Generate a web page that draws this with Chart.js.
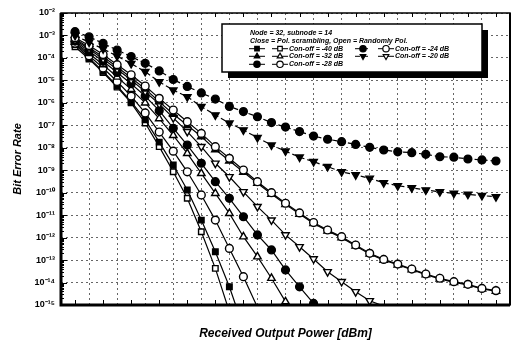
<!DOCTYPE html>
<html><head><meta charset="utf-8">
<script src="https://cdn.jsdelivr.net/npm/chart.js@4/dist/chart.umd.min.js"></script>
<style>html,body{margin:0;padding:0;background:#fff}#wrap{width:517px;height:341px}</style>
</head><body><div id="wrap"><canvas id="c" width="517" height="341"></canvas></div>
<script>
// Received output power (dBm)
const powerDbm = [-25,-24.5,-24,-23.5,-23,-22.5,-22,-21.5,-21,-20.5,-20,-19.5,-19,-18.5,-18,-17.5,-17,-16.5,-16,-15.5,-15,-14.5,-14,-13.5,-13,-12.5,-12,-11.5,-11,-10.5,-10];
// log10(BER) per series; Close = Pol. scrambling, Open = Randomly Pol.
const close40 = [-3.4,-4.0,-4.6,-5.25,-5.95,-6.75,-7.75,-8.77,-9.88,-11.22,-12.63,-14.19,-16.0];
const open40  = [-3.5,-4.05,-4.65,-5.3,-6.0,-6.9,-7.95,-9.07,-10.25,-11.74,-13.37,-15.3];
const close32 = [-3.15,-3.55,-3.95,-4.4,-4.88,-5.38,-5.95,-6.5,-7.0,-7.5,-8.08,-8.58,-9.08,-9.58,-10.06,-10.52,-10.95,-11.37,-11.7,-12.0,-12.37,-12.73,-13.0,-13.21,-13.43,-13.65,-13.84,-13.99,-14.11,-14.28,-14.38];
const open32  = [-3.3,-3.8,-4.3,-4.85,-5.4,-6.0,-6.7,-7.45,-8.25,-9.14,-10.03,-10.92,-11.96,-12.85,-13.81,-14.85,-15.9];
const close28 = [-3.25,-3.7,-4.15,-4.65,-5.15,-5.7,-6.35,-7.13,-7.88,-8.69,-9.51,-10.25,-11.07,-11.88,-12.55,-13.44,-14.19,-14.93,-15.8];
const open28  = [-3.35,-3.9,-4.45,-5.05,-5.7,-6.45,-7.3,-8.15,-9.07,-10.1,-11.22,-12.48,-13.74,-15.1];
const close24 = [-2.83,-3.06,-3.35,-3.65,-3.94,-4.24,-4.58,-4.96,-5.27,-5.56,-5.83,-6.16,-6.39,-6.62,-6.88,-7.08,-7.28,-7.48,-7.62,-7.73,-7.85,-7.98,-8.1,-8.18,-8.22,-8.29,-8.4,-8.42,-8.5,-8.54,-8.59];
const open24  = [-3.1,-3.45,-3.85,-4.3,-4.75,-5.25,-5.8,-6.32,-6.84,-7.36,-7.95,-8.47,-8.99,-9.51,-10.0,-10.47,-10.9,-11.33,-11.66,-11.96,-12.33,-12.7,-12.97,-13.18,-13.4,-13.62,-13.81,-13.96,-14.08,-14.26,-14.36];
const close20 = [-3.0,-3.3,-3.6,-3.92,-4.25,-4.61,-5.06,-5.43,-5.73,-6.17,-6.54,-6.9,-7.21,-7.55,-7.88,-8.15,-8.42,-8.62,-8.84,-9.07,-9.21,-9.36,-9.56,-9.69,-9.78,-9.88,-9.96,-10.03,-10.07,-10.13,-10.18];
const open20  = [-3.2,-3.6,-4.05,-4.5,-4.98,-5.5,-6.05,-6.67,-7.28,-7.95,-8.69,-9.29,-9.96,-10.62,-11.22,-11.88,-12.41,-12.95,-13.52,-13.96,-14.41,-14.81,-15.05];
const yDecades = [-15,-14,-13,-12,-11,-10,-9,-8,-7,-6,-5,-4,-3,-2];
const xTickLabels = [-24,-22,-20,-18,-16,-14,-12,-10];

const sup = {'-':'\u207B','0':'\u2070','1':'\u00B9','2':'\u00B2','3':'\u00B3','4':'\u2074','5':'\u2075','6':'\u2076','7':'\u2077','8':'\u2078','9':'\u2079'};
const toSup = s => String(s).split('').map(c=>sup[c]||c).join('');
const pts = arr => arr.map((v,i)=>({x:powerDbm[i], y:Math.pow(10,v)}));

function ds(label, arr, style, filled, opts={}){
  return Object.assign({
    label, data: pts(arr),
    borderColor:'#000', borderWidth:1.2, backgroundColor: filled?'#000':'#fff',
    pointStyle: style, pointBorderColor:'#000', pointBorderWidth:1.4,
    pointBackgroundColor: filled?'#000':'#fff',
    pointRadius: c => (c.raw && c.raw.y < 1e-15) ? 0 : (style==='triangle'?4.3:3.9),
    pointHoverRadius: 0, tension:0, fill:false
  }, opts);
}

const datasets = [
  ds('Close -20 dB', close20, 'triangle', true, {pointRotation:180, borderDash:[5,3]}),
  ds('Close -24 dB', close24, 'circle', true, {borderDash:[5,3]}),
  ds('Open -24 dB', open24, 'circle', false),
  ds('Close -32 dB', close32, 'triangle', true),
  ds('Open -20 dB', open20, 'triangle', false, {pointRotation:180}),
  ds('Close -28 dB', close28, 'circle', true),
  ds('Open -32 dB', open32, 'triangle', false),
  ds('Open -28 dB', open28, 'circle', false),
  ds('Close -40 dB', close40, 'rect', true),
  ds('Open -40 dB', open40, 'rect', false),
];

const framePlugin = {
  id:'frame',
  afterDatasetsDraw(chart){
    const {ctx, chartArea:a, scales:{x,y}} = chart;
    ctx.save();
    ctx.strokeStyle='#000'; ctx.lineWidth=1; ctx.setLineDash([]);
    ctx.beginPath();
    for(let e=-15;e<-2;e++){ for(let m=2;m<=9;m++){ const py=Math.round(y.getPixelForValue(m*Math.pow(10,e)))+0.5; ctx.moveTo(a.left,py); ctx.lineTo(a.left+3,py);} }
    yDecades.forEach(e=>{ const py=Math.round(y.getPixelForValue(Math.pow(10,e)))+0.5; ctx.moveTo(a.left,py); ctx.lineTo(a.left+6,py); });
    for(let v=-25; v<=-10; v++){ const px=Math.round(x.getPixelForValue(v))+0.5; ctx.moveTo(px,a.bottom); ctx.lineTo(px,a.bottom-5); ctx.moveTo(px,a.top); ctx.lineTo(px,a.top+4); }
    ctx.stroke();
    ctx.lineWidth=1.5; ctx.strokeRect(a.left, a.top, a.right-a.left, a.bottom-a.top);
    ctx.lineWidth=3;
    ctx.beginPath(); ctx.moveTo(a.left, a.top); ctx.lineTo(a.left, a.bottom); ctx.lineTo(a.right, a.bottom); ctx.stroke();
    ctx.lineWidth=2;
    ctx.beginPath(); ctx.moveTo(a.right, a.top); ctx.lineTo(a.right, a.bottom); ctx.stroke();
    ctx.restore();
  },
  afterDraw(chart){
    const ctx = chart.ctx;
    ctx.save();
    const bx=222, by=24, bw=260, bh=48;
    ctx.fillStyle='#000'; ctx.fillRect(bx+6, by+6, bw, bh);
    ctx.fillStyle='#fff'; ctx.fillRect(bx, by, bw, bh);
    ctx.strokeStyle='#000'; ctx.lineWidth=1.5; ctx.strokeRect(bx, by, bw, bh);
    ctx.fillStyle='#000';
    ctx.font='italic bold 7px "Liberation Sans", Arial, sans-serif';
    ctx.textBaseline='middle'; ctx.textAlign='left';
    ctx.fillText('Node = 32, subnode = 14', 250, 33);
    ctx.fillText('Close = Pol. scrambling, Open = Randomly Pol.', 250, 41);
    const rows = [
      {c:8, o:9, t:'Con-off = -40 dB', x:250, y:48.7},
      {c:3, o:6, t:'Con-off = -32 dB', x:250, y:56.3},
      {c:5, o:7, t:'Con-off = -28 dB', x:250, y:64.3},
      {c:1, o:2, t:'Con-off = -24 dB', x:356, y:48.7},
      {c:0, o:4, t:'Con-off = -20 dB', x:356, y:56.3},
    ];
    rows.forEach(r=>{
      [r.c, r.o].forEach((di,k)=>{
        const d = chart.data.datasets[di];
        const cx = r.x + 7 + k*23;
        ctx.strokeStyle='#000'; ctx.lineWidth=1;
        ctx.setLineDash(d.borderDash||[]);
        ctx.beginPath(); ctx.moveTo(cx-8, r.y); ctx.lineTo(cx+8, r.y); ctx.stroke();
        ctx.setLineDash([]);
        ctx.fillStyle = d.pointBackgroundColor; ctx.lineWidth=1.2;
        Chart.helpers.drawPoint(ctx, {pointStyle:d.pointStyle, rotation:d.pointRotation||0, radius:3.2, borderWidth:1.2}, cx, r.y);
      });
      ctx.fillStyle='#000';
      ctx.fillText(r.t, r.x+39, r.y);
    });
    ctx.restore();
  }
};

new Chart(document.getElementById('c'), {
  type:'line',
  data:{datasets},
  options:{
    responsive:false, animation:false, devicePixelRatio:1,
    layout:{padding:{top:13, right:5, left:0, bottom:0}},
    plugins:{legend:{display:false}, tooltip:{enabled:false}},
    scales:{
      x:{
        type:'linear', min:-25.5, max:-9.5,
        afterFit: s => { s.height = 36; },
        ticks:{stepSize:1, includeBounds:false, padding:7, color:'#000', maxRotation:0, autoSkip:false,
          font:{family:'"Liberation Sans", Arial, sans-serif', size:9, weight:'bold', style:'italic'},
          callback: v => xTickLabels.includes(v) ? String(v) : ''},
        grid:{color:'rgba(0,0,0,0.6)', lineWidth:1, drawTicks:false},
        border:{display:false, dash:[2,3]},
        title:{display:true, text:'Received Output Power [dBm]', color:'#000', padding:{top:0,bottom:0},
          font:{family:'"Liberation Sans", Arial, sans-serif', size:12, weight:'bold', style:'italic'}}
      },
      y:{
        type:'logarithmic', min:1e-15, max:1e-2,
        afterFit: s => { s.width = 61; },
        afterBuildTicks: s => { s.ticks = yDecades.map(e=>({value:Math.pow(10,e)})); },
        ticks:{padding:6, color:'#000', autoSkip:false,
          font:{family:'"Liberation Sans", Arial, sans-serif', size:9, weight:'bold'},
          callback: v => '10' + toSup(Math.round(Math.log10(v)))},
        grid:{color:'rgba(0,0,0,0.6)', lineWidth:1, drawTicks:false},
        border:{display:false, dash:[2,3]},
        title:{display:true, text:'Bit Error Rate', color:'#000', padding:{top:11,bottom:0},
          font:{family:'"Liberation Sans", Arial, sans-serif', size:11, weight:'bold', style:'italic'}}
      }
    }
  },
  plugins:[framePlugin]
});
</script></body></html>
